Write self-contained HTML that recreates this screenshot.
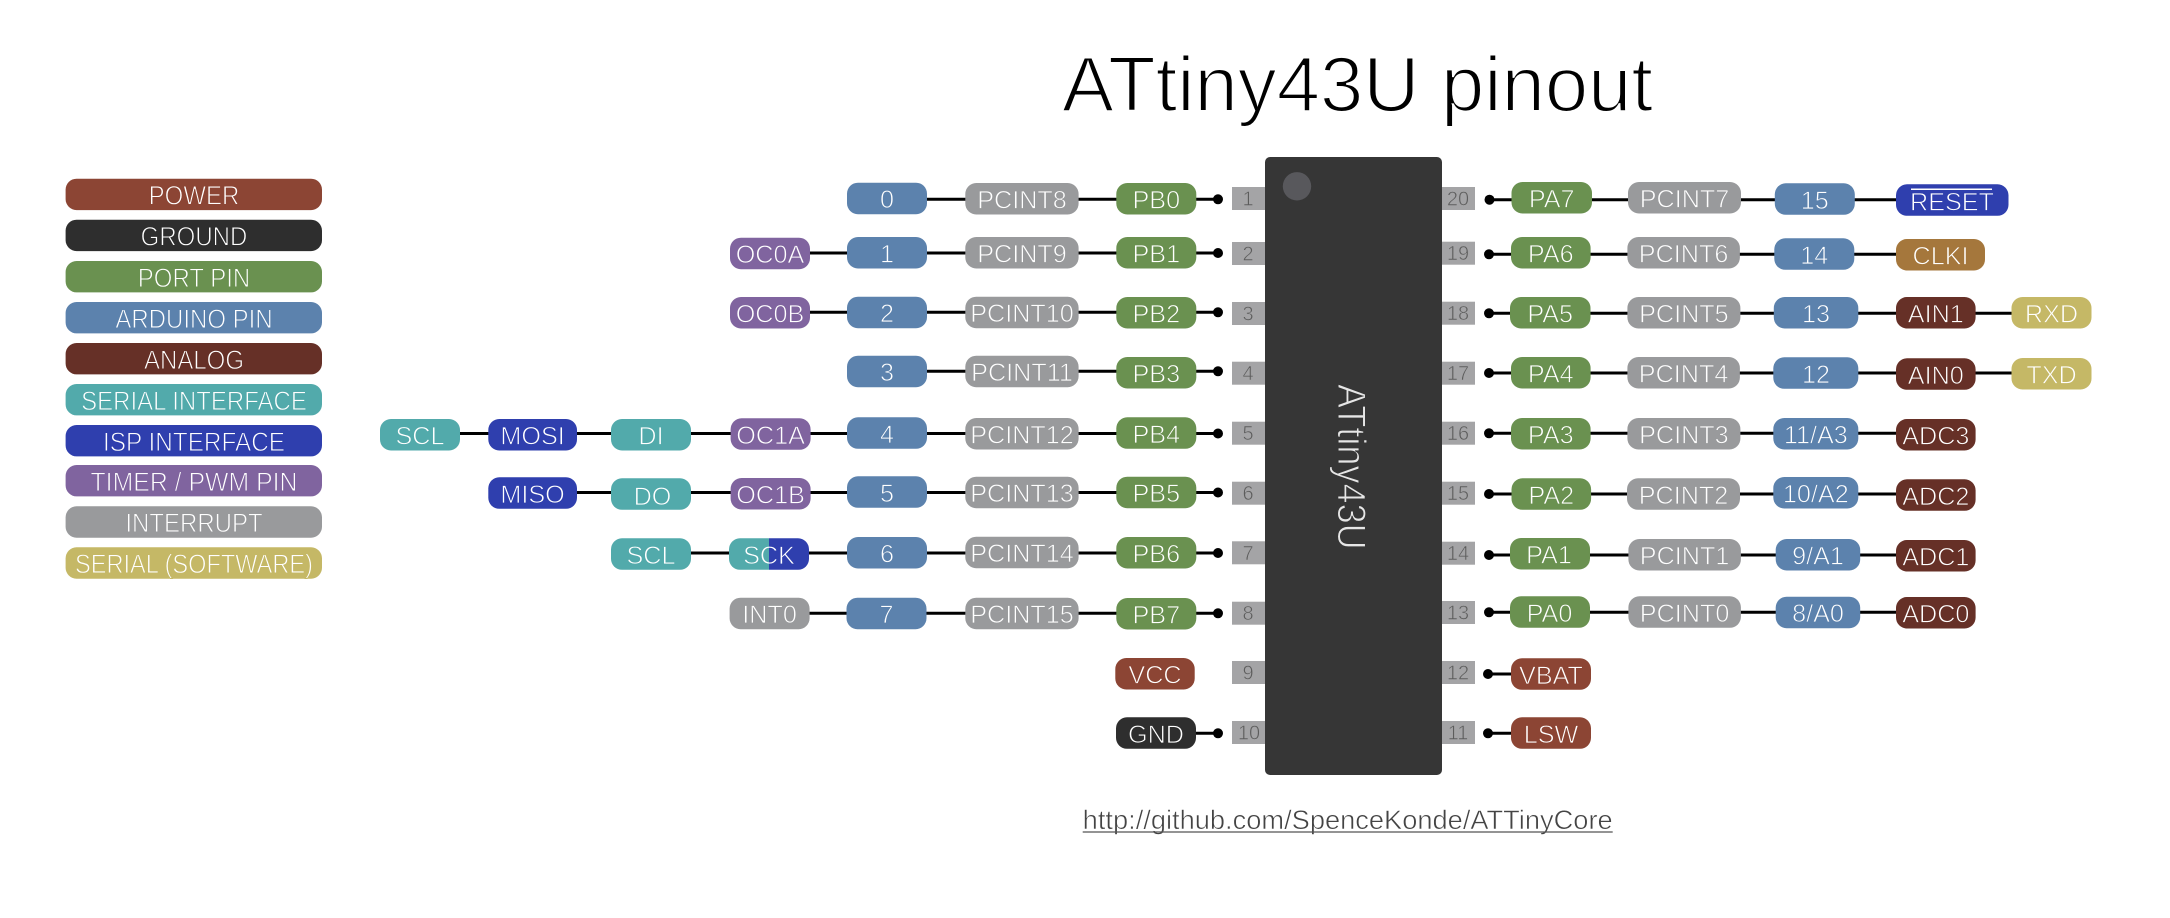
<!DOCTYPE html>
<html><head><meta charset="utf-8"><title>ATtiny43U pinout</title>
<style>
html,body{margin:0;padding:0;background:#fff}
svg{display:block}
text{font-family:"Liberation Sans",sans-serif}
.l text,.k text{font-size:25.2px;fill:#fff;text-anchor:middle;stroke-width:.8}
.k rect{rx:11px;ry:11px;height:31.5px}
.l rect{rx:11px;ry:11px;height:31.4px;width:256.4px;x:65.6px}
.l text{font-size:24px}
.pw rect{fill:#8c4534}.pw text{stroke:#8c4534}
.gn rect{fill:#2e2e2e}.gn text{stroke:#2e2e2e}
.pt rect{fill:#6a9150}.pt text{stroke:#6a9150}
.ar rect{fill:#5c82ad}.ar text{stroke:#5c82ad}
.an rect{fill:#663027}.an text{stroke:#663027}
.se rect{fill:#52aaab}.se text{stroke:#52aaab}
.is rect{fill:#2f3fae}.is text{stroke:#2f3fae}
.ti rect{fill:#80649f}.ti text{stroke:#80649f}
.in rect{fill:#999a9c}.in text{stroke:#999a9c}
.so rect{fill:#c5b866}.so text{stroke:#c5b866}
.cl rect{fill:#a5773c}.cl text{stroke:#a5773c}
.w line{stroke:#000;stroke-width:3}
.d circle{fill:#000;r:5px}
.n rect{fill:#a4a4a6;width:33px;height:23px}
.n text{font-size:20px;fill:#5c5c5c;text-anchor:middle;stroke:#a4a4a6;stroke-width:.6}
</style></head>
<body>
<svg xmlns="http://www.w3.org/2000/svg" width="2170" height="918" viewBox="0 0 2170 918">
<defs><linearGradient id="sck" gradientUnits="userSpaceOnUse" x1="729" x2="809" y1="0" y2="0"><stop offset=".5" stop-color="#52aaab"/><stop offset=".5" stop-color="#2f3fae"/></linearGradient></defs>
<rect width="2170" height="918" fill="#fff"/>

<text x="1062" y="111" font-size="78" textLength="591" lengthAdjust="spacingAndGlyphs" fill="#000" stroke="#fff" stroke-width="2">ATtiny43U pinout</text>

<!-- legend -->
<g class="l pw"><rect y="178.7"/><text transform="translate(194,204.6) scale(1,1.1)">POWER</text></g>
<g class="l gn"><rect y="219.7"/><text transform="translate(194,245.6) scale(1,1.1)">GROUND</text></g>
<g class="l pt"><rect y="261"/><text transform="translate(194,286.9) scale(1,1.1)">PORT PIN</text></g>
<g class="l ar"><rect y="302"/><text transform="translate(194,327.9) scale(1,1.1)">ARDUINO PIN</text></g>
<g class="l an"><rect y="343"/><text transform="translate(194,368.9) scale(1,1.1)">ANALOG</text></g>
<g class="l se"><rect y="384"/><text transform="translate(194,409.9) scale(1,1.1)">SERIAL INTERFACE</text></g>
<g class="l is"><rect y="425"/><text transform="translate(194,450.9) scale(1,1.1)" textLength="182" lengthAdjust="spacingAndGlyphs">ISP INTERFACE</text></g>
<g class="l ti"><rect y="465"/><text transform="translate(194,490.9) scale(1,1.1)" textLength="207" lengthAdjust="spacingAndGlyphs">TIMER / PWM PIN</text></g>
<g class="l in"><rect y="506.3"/><text transform="translate(194,532.2) scale(1,1.1)">INTERRUPT</text></g>
<g class="l so"><rect y="547.3"/><text transform="translate(194,573.2) scale(1,1.1)" textLength="238" lengthAdjust="spacingAndGlyphs">SERIAL (SOFTWARE)</text></g>

<!-- wires -->
<g class="w">
<line x1="860" x2="1218" y1="199.3" y2="199.3"/>
<line x1="750" x2="1218" y1="253" y2="253"/>
<line x1="750" x2="1218" y1="312.3" y2="312.3"/>
<line x1="860" x2="1218" y1="371.3" y2="371.3"/>
<line x1="400" x2="1218" y1="433.5" y2="433.5"/>
<line x1="500" x2="1218" y1="492.5" y2="492.5"/>
<line x1="630" x2="1218" y1="553" y2="553"/>
<line x1="750" x2="1218" y1="613.3" y2="613.3"/>
<line x1="1130" x2="1218" y1="733.3" y2="733.3"/>
<line x1="1489" x2="1990" y1="199.7" y2="199.7"/>
<line x1="1489" x2="1970" y1="254.3" y2="254.3"/>
<line x1="1489" x2="2070" y1="313.3" y2="313.3"/>
<line x1="1489" x2="2070" y1="373" y2="373"/>
<line x1="1489" x2="1960" y1="433.3" y2="433.3"/>
<line x1="1489" x2="1960" y1="494" y2="494"/>
<line x1="1489" x2="1960" y1="555" y2="555"/>
<line x1="1489" x2="1960" y1="612.3" y2="612.3"/>
<line x1="1488" x2="1530" y1="674" y2="674"/>
<line x1="1488" x2="1530" y1="733.3" y2="733.3"/>
</g>
<g class="d">
<circle cx="1218" cy="199.3"/><circle cx="1218" cy="253"/><circle cx="1218" cy="312.3"/><circle cx="1218" cy="371.3"/><circle cx="1218" cy="433.5"/><circle cx="1218" cy="492.5"/><circle cx="1218" cy="553"/><circle cx="1218" cy="613.3"/><circle cx="1218" cy="733.3"/>
<circle cx="1489.5" cy="199.7"/><circle cx="1489" cy="254.3"/><circle cx="1489" cy="313.3"/><circle cx="1489" cy="373"/><circle cx="1489" cy="433.3"/><circle cx="1489" cy="494"/><circle cx="1489" cy="555"/><circle cx="1489" cy="612.3"/><circle cx="1488" cy="674"/><circle cx="1488" cy="733.3"/>
</g>

<!-- pin stubs -->
<g class="n">
<rect x="1232" y="187"/><text x="1248" y="205.5">1</text>
<rect x="1232" y="242"/><text x="1248" y="260.5">2</text>
<rect x="1232" y="302"/><text x="1248" y="320.5">3</text>
<rect x="1232" y="361.7"/><text x="1248" y="380.2">4</text>
<rect x="1232" y="421.7"/><text x="1248" y="440.2">5</text>
<rect x="1232" y="481.7"/><text x="1248" y="500.2">6</text>
<rect x="1232" y="541.3"/><text x="1248" y="559.8">7</text>
<rect x="1232" y="601.7"/><text x="1248" y="620.2">8</text>
<rect x="1232" y="661"/><text x="1248" y="679.5">9</text>
<rect x="1232" y="721"/><text x="1249" y="739.5">10</text>
<rect x="1442" y="187"/><text x="1458" y="205.5">20</text>
<rect x="1442" y="241.7"/><text x="1458" y="260.2">19</text>
<rect x="1442" y="301.7"/><text x="1458" y="320.2">18</text>
<rect x="1442" y="361.7"/><text x="1458" y="380.2">17</text>
<rect x="1442" y="421.7"/><text x="1458" y="440.2">16</text>
<rect x="1442" y="481.7"/><text x="1458" y="500.2">15</text>
<rect x="1442" y="541.7"/><text x="1458" y="560.2">14</text>
<rect x="1442" y="601"/><text x="1458" y="619.5">13</text>
<rect x="1442" y="661"/><text x="1458" y="679.5">12</text>
<rect x="1442" y="721"/><text x="1458" y="739.5">11</text>
</g>

<!-- chip -->
<rect x="1265" y="157" width="177" height="618" rx="5" ry="5" fill="#363636"/>
<circle cx="1297" cy="186.3" r="14.2" fill="#58585c"/>
<text transform="translate(1338,384) rotate(90) scale(.975,1.07)" font-size="37" fill="#e6e6e6" stroke="#363636" stroke-width="1">ATtiny43U</text>

<!-- left pills -->
<g class="k ar"><rect x="847" y="182.7" width="80"/><text x="887" y="208.2">0</text></g>
<g class="k in"><rect x="965.3" y="183" width="113.3"/><text x="1022" y="208.5">PCINT8</text></g>
<g class="k pt"><rect x="1116.3" y="183" width="80"/><text x="1156.3" y="208.5">PB0</text></g>

<g class="k ti"><rect x="730" y="237.7" width="80"/><text x="770" y="263.2">OC0A</text></g>
<g class="k ar"><rect x="847" y="237" width="80"/><text x="887" y="262.5">1</text></g>
<g class="k in"><rect x="965.3" y="237" width="113.3"/><text x="1022" y="262.5">PCINT9</text></g>
<g class="k pt"><rect x="1116.3" y="237" width="80"/><text x="1156.3" y="262.5">PB1</text></g>

<g class="k ti"><rect x="730" y="297" width="80"/><text x="770" y="322.5">OC0B</text></g>
<g class="k ar"><rect x="847" y="296.7" width="80"/><text x="887" y="322.2">2</text></g>
<g class="k in"><rect x="965.3" y="296.7" width="113.3"/><text x="1022" y="322.2">PCINT10</text></g>
<g class="k pt"><rect x="1116.3" y="297" width="80"/><text x="1156.3" y="322.5">PB2</text></g>

<g class="k ar"><rect x="847" y="355.7" width="80"/><text x="887" y="381.2">3</text></g>
<g class="k in"><rect x="965.3" y="355.7" width="113.3"/><text x="1022" y="381.2">PCINT11</text></g>
<g class="k pt"><rect x="1116.3" y="357" width="80"/><text x="1156.3" y="382.5">PB3</text></g>

<g class="k se"><rect x="380" y="419" width="80"/><text x="420" y="444.5">SCL</text></g>
<g class="k is"><rect x="488.3" y="419" width="88.7"/><text x="532.6" y="444.5">MOSI</text></g>
<g class="k se"><rect x="611" y="419" width="80"/><text x="651" y="444.5">DI</text></g>
<g class="k ti"><rect x="730.6" y="418.3" width="80"/><text x="770.6" y="443.8">OC1A</text></g>
<g class="k ar"><rect x="847" y="417.3" width="80"/><text x="887" y="442.8">4</text></g>
<g class="k in"><rect x="965.3" y="418" width="113.3"/><text x="1022" y="443.5">PCINT12</text></g>
<g class="k pt"><rect x="1116.3" y="417.3" width="80"/><text x="1156.3" y="442.8">PB4</text></g>

<g class="k is"><rect x="488.3" y="477.3" width="88.7"/><text x="532.6" y="503">MISO</text></g>
<g class="k se"><rect x="611" y="478.3" width="80"/><text x="652.5" y="505">DO</text></g>
<g class="k ti"><rect x="730.6" y="478" width="80"/><text x="770.6" y="503.5">OC1B</text></g>
<g class="k ar"><rect x="847" y="476.3" width="80"/><text x="887" y="501.8">5</text></g>
<g class="k in"><rect x="965.3" y="476.7" width="113.3"/><text x="1022" y="502.2">PCINT13</text></g>
<g class="k pt"><rect x="1116.3" y="476.7" width="80"/><text x="1156.3" y="502.2">PB5</text></g>

<g class="k se"><rect x="611" y="538.3" width="80"/><text x="651" y="563.8">SCL</text></g>
<g class="k"><rect x="729" y="538.3" width="80" fill="url(#sck)"/><text x="769" y="563.8" stroke="url(#sck)">SCK</text></g>
<g class="k ar"><rect x="847" y="537" width="80"/><text x="887" y="562.5">6</text></g>
<g class="k in"><rect x="965.3" y="536.7" width="113.3"/><text x="1022" y="562.2">PCINT14</text></g>
<g class="k pt"><rect x="1116.3" y="537" width="80"/><text x="1156.3" y="562.5">PB6</text></g>

<g class="k in"><rect x="729.6" y="597.7" width="80"/><text x="769.6" y="623.2">INT0</text></g>
<g class="k ar"><rect x="846.5" y="597.7" width="80"/><text x="886.5" y="623.2">7</text></g>
<g class="k in"><rect x="965.3" y="597.7" width="113.3"/><text x="1022" y="623.2">PCINT15</text></g>
<g class="k pt"><rect x="1116.3" y="598" width="80"/><text x="1156.3" y="623.5">PB7</text></g>

<g class="k pw"><rect x="1115.3" y="658" width="79.4"/><text x="1155" y="683.5">VCC</text></g>
<g class="k gn"><rect x="1116" y="717.3" width="80"/><text x="1156" y="742.8">GND</text></g>

<!-- right pills -->
<g class="k pt"><rect x="1511.5" y="182" width="80.5"/><text x="1551.7" y="207.5">PA7</text></g>
<g class="k in"><rect x="1628" y="182" width="113"/><text x="1684.5" y="207.5">PCINT7</text></g>
<g class="k ar"><rect x="1774.8" y="183.3" width="80"/><text x="1814.8" y="208.8">15</text></g>
<g class="k is"><rect x="1896" y="184.3" width="112.5"/><text x="1952" y="210.5">RESET</text><line x1="1911" x2="1992" y1="189.3" y2="189.3" stroke="#fff" stroke-width="1.5"/></g>

<g class="k pt"><rect x="1511" y="237" width="79.6"/><text x="1550.8" y="262.5">PA6</text></g>
<g class="k in"><rect x="1627.4" y="237" width="112.5"/><text x="1683.6" y="262.5">PCINT6</text></g>
<g class="k ar"><rect x="1774.3" y="238.3" width="80"/><text x="1814.3" y="263.8">14</text></g>
<g class="k cl"><rect x="1896" y="239" width="89"/><text x="1940.5" y="264.5">CLKI</text></g>

<g class="k pt"><rect x="1510" y="297" width="80.5"/><text x="1550.2" y="322.5">PA5</text></g>
<g class="k in"><rect x="1627.4" y="297" width="113"/><text x="1683.9" y="322.5">PCINT5</text></g>
<g class="k ar"><rect x="1773.8" y="297" width="84.5"/><text x="1816" y="322.5">13</text></g>
<g class="k an"><rect x="1896" y="297" width="79.6"/><text x="1935.8" y="322.5">AIN1</text></g>
<g class="k so"><rect x="2011.5" y="297" width="80"/><text x="2051.5" y="322.5">RXD</text></g>

<g class="k pt"><rect x="1511" y="357" width="79.6"/><text x="1550.8" y="382.5">PA4</text></g>
<g class="k in"><rect x="1627.4" y="357" width="112.5"/><text x="1683.6" y="382.5">PCINT4</text></g>
<g class="k ar"><rect x="1773.3" y="357.3" width="85"/><text x="1816" y="382.8">12</text></g>
<g class="k an"><rect x="1896" y="358.3" width="79.6"/><text x="1935.8" y="383.8">AIN0</text></g>
<g class="k so"><rect x="2011.5" y="358" width="80"/><text x="2051.5" y="383.5">TXD</text></g>

<g class="k pt"><rect x="1511" y="418" width="79.6"/><text x="1550.8" y="443.5">PA3</text></g>
<g class="k in"><rect x="1627.4" y="418" width="113"/><text x="1683.9" y="443.5">PCINT3</text></g>
<g class="k ar"><rect x="1773.3" y="418" width="85"/><text x="1815.8" y="443.5">11/A3</text></g>
<g class="k an"><rect x="1896" y="419" width="79.6"/><text x="1935.8" y="444.5">ADC3</text></g>

<g class="k pt"><rect x="1511.5" y="478.3" width="79.6"/><text x="1551.3" y="503.8">PA2</text></g>
<g class="k in"><rect x="1627" y="478.3" width="113"/><text x="1683.5" y="503.8">PCINT2</text></g>
<g class="k ar"><rect x="1773.3" y="477" width="85"/><text x="1815.8" y="502.5">10/A2</text></g>
<g class="k an"><rect x="1896" y="479.3" width="79.6"/><text x="1935.8" y="504.8">ADC2</text></g>

<g class="k pt"><rect x="1510" y="538" width="80"/><text x="1549" y="563.5">PA1</text></g>
<g class="k in"><rect x="1628.4" y="539" width="112.5"/><text x="1684.6" y="564.5">PCINT1</text></g>
<g class="k ar"><rect x="1775.7" y="539" width="84.5"/><text x="1818" y="564.5">9/A1</text></g>
<g class="k an"><rect x="1896" y="540" width="79.6"/><text x="1935.8" y="565.5">ADC1</text></g>

<g class="k pt"><rect x="1510" y="596.3" width="80"/><text x="1549.5" y="621.8">PA0</text></g>
<g class="k in"><rect x="1628.4" y="596.3" width="112.5"/><text x="1684.6" y="621.8">PCINT0</text></g>
<g class="k ar"><rect x="1775.7" y="596.7" width="84.5"/><text x="1818" y="622.2">8/A0</text></g>
<g class="k an"><rect x="1896" y="597" width="79.6"/><text x="1935.8" y="622.5">ADC0</text></g>

<g class="k pw"><rect x="1511" y="658.3" width="80"/><text x="1551" y="683.8">VBAT</text></g>
<g class="k pw"><rect x="1511" y="717.3" width="80"/><text x="1551" y="742.8">LSW</text></g>

<!-- link -->
<text x="1082.7" y="829" font-size="27" textLength="530" lengthAdjust="spacingAndGlyphs" fill="#444" stroke="#fff" stroke-width=".55">http://github.com/SpenceKonde/ATTinyCore</text>
<line x1="1082.7" x2="1612.7" y1="832" y2="832" stroke="#555" stroke-width="1.3"/>
</svg>
</body></html>
